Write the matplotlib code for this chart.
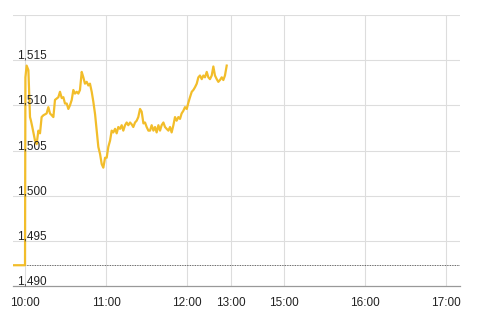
import matplotlib
matplotlib.use("Agg")
import matplotlib.pyplot as plt
import matplotlib.transforms as mtransforms

# session minutes since 10:00 (axis is compressed after 12:00)
minutes = [-8.9, 0.0, 0.3, 1.2, 2.5, 3.7, 4.4, 5.4, 7.4, 8.6, 9.9, 11.1, 12.3, 13.6,
           16.0, 17.3, 18.5, 19.8, 21.0, 22.2, 24.7, 25.9, 27.2, 28.4, 29.6, 30.9,
           32.1, 33.3, 34.6, 35.8, 37.0, 38.3, 39.5, 40.7, 42.0, 43.2, 44.4, 45.7,
           46.9, 48.1, 49.4, 50.6, 51.9, 53.1, 54.3, 55.6, 56.8, 58.0, 59.3, 60.5,
           61.7, 63.0, 64.2, 65.4, 66.7, 67.9, 69.1, 70.4, 71.6, 72.8, 74.1, 75.3,
           76.5, 77.8, 79.0, 80.2, 81.5, 82.7, 83.9, 85.2, 86.4, 87.7, 88.9, 90.1,
           91.4, 92.6, 93.8, 95.1, 96.3, 97.5, 98.8, 100.0, 101.2, 102.5, 103.7,
           104.9, 106.2, 107.4, 108.6, 109.9, 111.1, 112.3, 113.6, 114.8, 116.0,
           117.3, 118.5, 119.8, 121.0, 122.2, 123.5, 124.7, 125.9, 127.2, 128.4,
           129.6, 130.9, 132.1, 133.3, 134.6, 135.8, 137.0, 138.3, 139.5, 140.7,
           142.0, 143.2, 144.4, 145.7, 146.9, 148.1, 149.4]
price = [1492.3, 1492.3, 1513.1, 1514.4, 1513.9, 1508.7, 1508.3, 1507.6, 1506.1, 1505.7,
         1507.2, 1506.9, 1508.7, 1508.9, 1509.1, 1509.8, 1509.1, 1508.9, 1508.7, 1510.6,
         1510.9, 1511.5, 1510.8, 1510.9, 1510.2, 1510.2, 1509.6, 1510.0, 1510.6, 1511.7,
         1511.3, 1511.5, 1511.3, 1511.7, 1513.7, 1513.1, 1512.4, 1512.6, 1512.2, 1512.4,
         1511.5, 1510.4, 1509.0, 1507.2, 1505.4, 1504.6, 1503.5, 1503.1, 1504.2, 1504.2,
         1505.4, 1506.1, 1507.2, 1507.0, 1507.4, 1506.9, 1507.6, 1507.4, 1507.8, 1507.2,
         1507.8, 1508.1, 1507.8, 1508.1, 1507.9, 1507.6, 1508.1, 1508.3, 1508.7, 1509.6,
         1509.3, 1508.0, 1508.1, 1507.6, 1507.2, 1507.2, 1507.8, 1507.2, 1507.6, 1507.0,
         1507.8, 1507.2, 1507.8, 1508.1, 1507.6, 1507.4, 1507.2, 1507.6, 1507.0, 1507.8,
         1508.7, 1508.3, 1508.7, 1508.5, 1509.1, 1509.4, 1509.8, 1509.6, 1510.3, 1510.9,
         1511.5, 1511.7, 1512.0, 1512.4, 1513.1, 1513.3, 1512.9, 1513.3, 1513.1, 1513.7,
         1513.1, 1512.9, 1513.3, 1514.3, 1513.3, 1512.9, 1512.6, 1512.8, 1513.1, 1512.8,
         1513.3, 1514.4]
prev_close = 1492.3

x_tick_pos = [0, 60, 120, 152.6, 191.9, 251.9, 311.9]
x_tick_labels = ["10:00", "11:00", "12:00", "13:00", "15:00", "16:00", "17:00"]
y_ticks = [1490, 1495, 1500, 1505, 1510, 1515, 1520]
y_tick_labels = ["1,490", "1,495", "1,500", "1,505", "1,510", "1,515", ""]

plt.rcParams['font.family'] = ['Liberation Sans', 'DejaVu Sans']

fig = plt.figure(figsize=(4.83, 3.22), dpi=100)
ax = fig.add_axes([13 / 483, 1 - 286 / 322, 447 / 483, 271 / 322])

ax.set_xlim(-8.9, 322.2)
ax.set_ylim(1490, 1520)

# grid
for yv in y_ticks[1:]:
    ax.axhline(yv, color="#dddddd", lw=0.8, zorder=0)
for xv in x_tick_pos:
    ax.axvline(xv, color="#dddddd", lw=0.8, zorder=0)

ax.axhline(prev_close, color="#333333", lw=0.6, ls=(0, (1, 1)), zorder=1)

ax.plot(minutes, price, color="#f2bd2a", lw=1.6, zorder=3, solid_joinstyle="round")

for sp in ["top", "right", "left"]:
    ax.spines[sp].set_visible(False)
ax.spines["bottom"].set_color("#999999")
ax.spines["bottom"].set_linewidth(0.9)

ax.set_yticks([])
ax.set_xticks(x_tick_pos)
ax.set_xticklabels(x_tick_labels, fontsize=8.5, color="#222222")
ax.tick_params(axis="x", length=0, pad=8)

trans = mtransforms.blended_transform_factory(ax.transAxes, ax.transData)
for yv, lab in zip(y_ticks, y_tick_labels):
    if lab:
        ax.text(0.009, yv + 0.15, lab, transform=trans, fontsize=8.5,
                color="#222222", ha="left", va="baseline")

fig.savefig("out.png", dpi=100)
